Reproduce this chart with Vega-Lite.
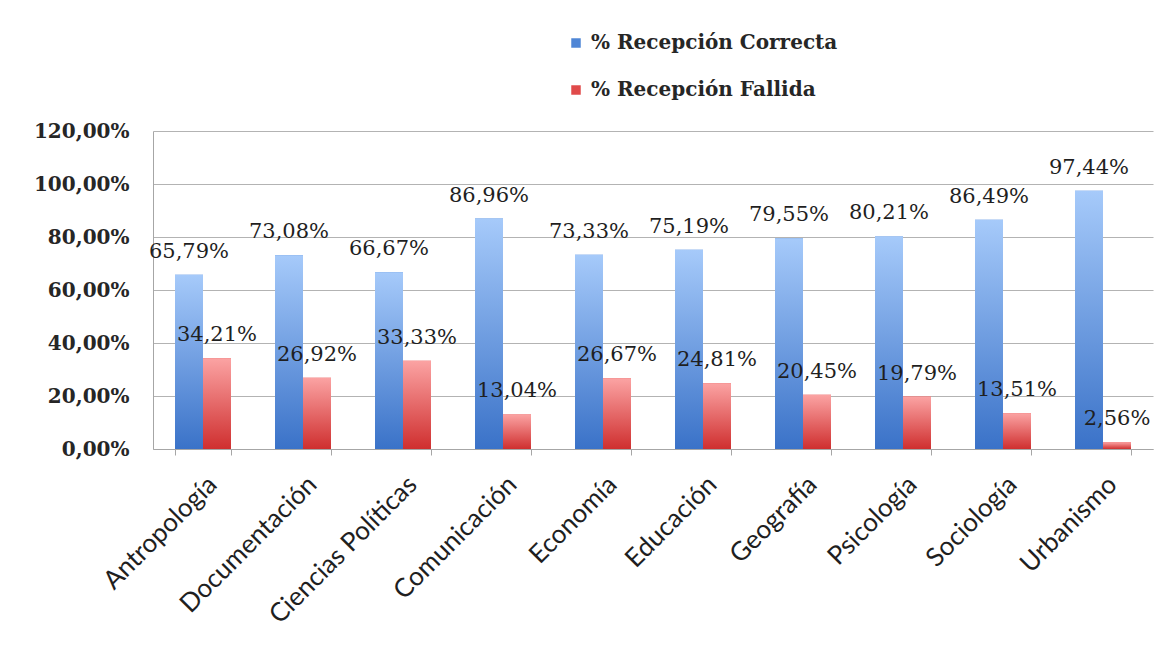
{
  "$schema": "https://vega.github.io/schema/vega-lite/v6.json",
  "width": 1000,
  "height": 318,
  "autosize": {"type": "none"},
  "padding": {"left": 153, "top": 131, "right": 13, "bottom": 210},
  "background": "white",
  "config": {
    "locale": {"number": {"decimal": ",", "thousands": ".", "grouping": [3], "currency": ["", " €"]}},
    "view": {"stroke": null}
  },
  "data": {
    "values": [
      {"area": "Antropología", "serie": "% Recepción Correcta", "valor": 0.6579},
      {"area": "Antropología", "serie": "% Recepción Fallida", "valor": 0.3421},
      {"area": "Documentación", "serie": "% Recepción Correcta", "valor": 0.7308},
      {"area": "Documentación", "serie": "% Recepción Fallida", "valor": 0.2692},
      {"area": "Ciencias Políticas", "serie": "% Recepción Correcta", "valor": 0.6667},
      {"area": "Ciencias Políticas", "serie": "% Recepción Fallida", "valor": 0.3333},
      {"area": "Comunicación", "serie": "% Recepción Correcta", "valor": 0.8696},
      {"area": "Comunicación", "serie": "% Recepción Fallida", "valor": 0.1304},
      {"area": "Economía", "serie": "% Recepción Correcta", "valor": 0.7333},
      {"area": "Economía", "serie": "% Recepción Fallida", "valor": 0.2667},
      {"area": "Educación", "serie": "% Recepción Correcta", "valor": 0.7519},
      {"area": "Educación", "serie": "% Recepción Fallida", "valor": 0.2481},
      {"area": "Geografía", "serie": "% Recepción Correcta", "valor": 0.7955},
      {"area": "Geografía", "serie": "% Recepción Fallida", "valor": 0.2045},
      {"area": "Psicología", "serie": "% Recepción Correcta", "valor": 0.8021},
      {"area": "Psicología", "serie": "% Recepción Fallida", "valor": 0.1979},
      {"area": "Sociología", "serie": "% Recepción Correcta", "valor": 0.8649},
      {"area": "Sociología", "serie": "% Recepción Fallida", "valor": 0.1351},
      {"area": "Urbanismo", "serie": "% Recepción Correcta", "valor": 0.9744},
      {"area": "Urbanismo", "serie": "% Recepción Fallida", "valor": 0.0256}
    ]
  },
  "encoding": {
    "x": {
      "field": "area", "type": "nominal", "sort": null,
      "scale": {"paddingInner": 0.44, "paddingOuter": 0.22},
      "axis": {
        "title": null, "labelAngle": -45, "labelFont": "Lato", "labelFontSize": 26,
        "labelColor": "#1f1f1f", "tickBand": "extent", "tickSize": 6, "tickColor": "#a6a6a6",
        "domainColor": "#a6a6a6", "grid": false, "labelPadding": 16, "labelLimit": 0
      }
    },
    "xOffset": {"field": "serie", "type": "nominal", "sort": ["% Recepción Correcta", "% Recepción Fallida"]},
    "y": {
      "field": "valor", "type": "quantitative",
      "scale": {"domain": [0, 1.2]},
      "axis": {
        "title": null, "values": [0, 0.2, 0.4, 0.6, 0.8, 1.0, 1.2], "format": ".2%",
        "grid": true, "gridColor": "#b3b3b3", "domainColor": "#a6a6a6", "ticks": false,
        "labelFont": "DejaVu Serif", "labelFontSize": 20, "labelFontWeight": "bold",
        "labelColor": "#262626", "labelPadding": 24
      }
    }
  },
  "layer": [
    {
      "mark": {"type": "bar"},
      "encoding": {
        "color": {
          "field": "serie", "type": "nominal",
          "scale": {"domain": ["% Recepción Correcta", "% Recepción Fallida"], "range": ["#4f86d6", "#e04a4a"]},
          "legend": {
            "orient": "none", "legendX": 413, "legendY": -98, "title": null,
            "symbolType": "square", "symbolSize": 90, "symbolStrokeWidth": 0,
            "labelFont": "DejaVu Serif", "labelFontSize": 20, "labelFontWeight": "bold",
            "labelColor": "#262626", "rowPadding": 27, "labelOffset": 5, "labelLimit": 0
          }
        }
      }
    },
    {
      "transform": [{"filter": "datum.serie === '% Recepción Correcta'"}],
      "mark": {
        "type": "bar",
        "color": {"gradient": "linear", "x1": 0, "y1": 0, "x2": 0, "y2": 1,
          "stops": [{"offset": 0, "color": "#a6cafa"}, {"offset": 1, "color": "#3a72c8"}]}
      }
    },
    {
      "transform": [{"filter": "datum.serie === '% Recepción Fallida'"}],
      "mark": {
        "type": "bar",
        "color": {"gradient": "linear", "x1": 0, "y1": 0, "x2": 0, "y2": 1,
          "stops": [{"offset": 0, "color": "#fba3a3"}, {"offset": 1, "color": "#cf2f2f"}]}
      }
    },
    {
      "mark": {"type": "text", "baseline": "alphabetic", "dy": -17, "font": "DejaVu Serif", "fontSize": 21, "color": "#1f1f1f"},
      "encoding": {
        "text": {"field": "valor", "type": "quantitative", "format": ".2%"}
      }
    }
  ]
}
